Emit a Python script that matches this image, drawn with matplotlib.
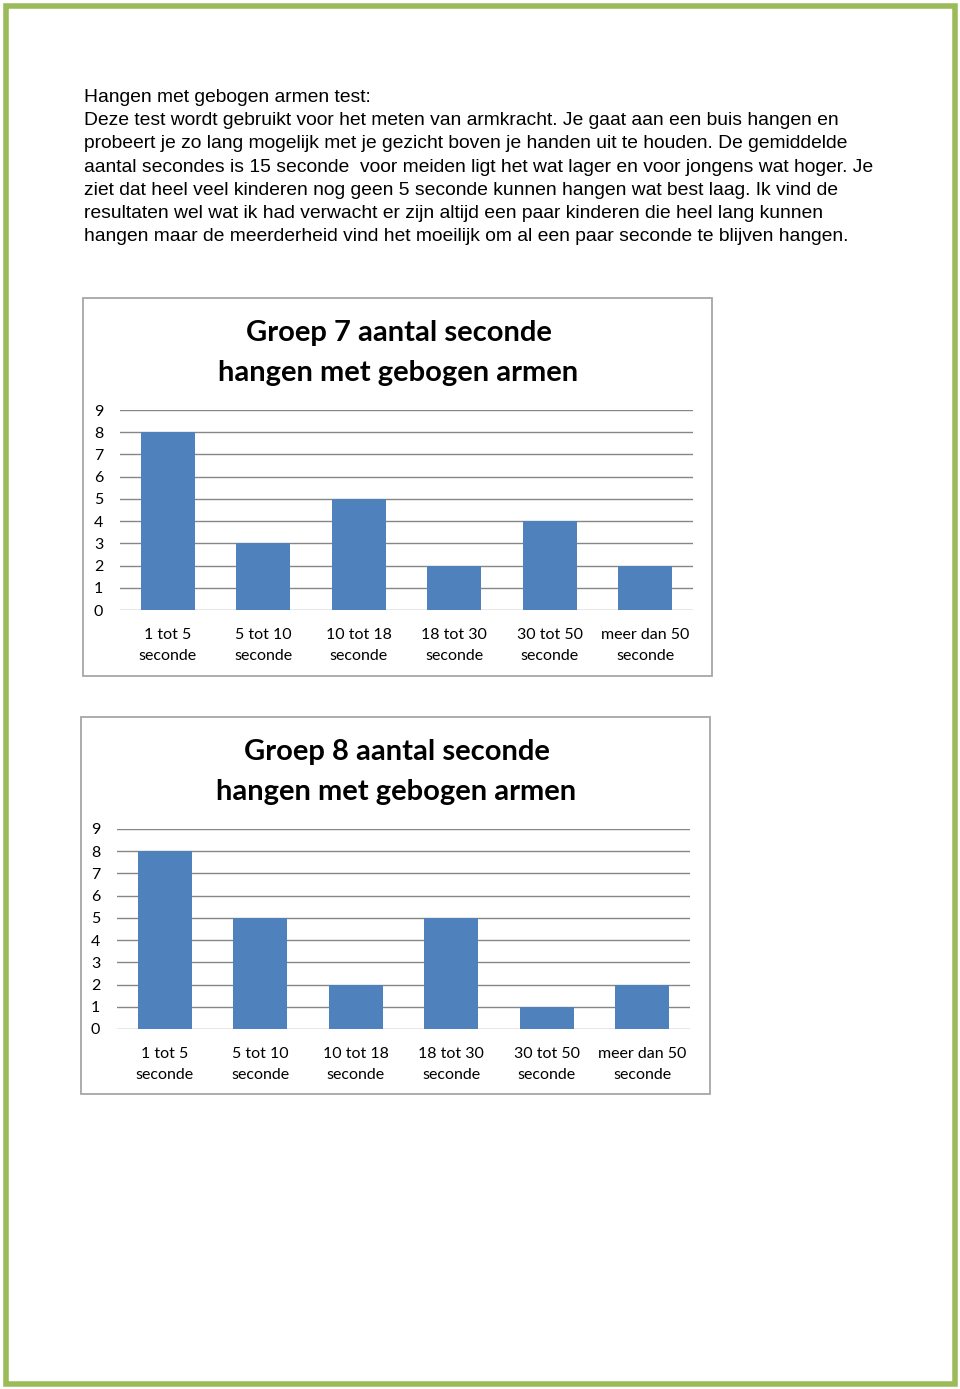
import matplotlib
matplotlib.use("Agg")
import matplotlib.pyplot as plt
from matplotlib.patches import Rectangle

W, H = 960, 1389

categories = ["1 tot 5\nseconde", "5 tot 10\nseconde", "10 tot 18\nseconde",
              "18 tot 30\nseconde", "30 tot 50\nseconde", "meer dan 50\nseconde"]
groep7 = [8, 3, 5, 2, 4, 2]
groep8 = [8, 5, 2, 5, 1, 2]
yticks = list(range(0, 10))

paragraph = [
    "Hangen met gebogen armen test:",
    "Deze test wordt gebruikt voor het meten van armkracht. Je gaat aan een buis hangen en",
    "probeert je zo lang mogelijk met je gezicht boven je handen uit te houden. De gemiddelde",
    "aantal secondes is 15 seconde  voor meiden ligt het wat lager en voor jongens wat hoger. Je",
    "ziet dat heel veel kinderen nog geen 5 seconde kunnen hangen wat best laag. Ik vind de",
    "resultaten wel wat ik had verwacht er zijn altijd een paar kinderen die heel lang kunnen",
    "hangen maar de meerderheid vind het moeilijk om al een paar seconde te blijven hangen.",
]

BAR = "#4F81BD"
GRID = "#868686"
FRAME = "#A6A6A6"
GREEN = "#9BBB59"
CHART_FONT = "Lato"


def box(x0, y0, x1, y1):
    # pixel box (top-left origin) -> figure fraction rect
    return [x0 / W, 1 - y1 / H, (x1 - x0) / W, (y1 - y0) / H]


fig = plt.figure(figsize=(W / 100, H / 100), dpi=100)
fig.patch.set_facecolor("white")

# green page border
fig.add_artist(Rectangle((5.5 / W, 5.5 / H), (W - 11) / W, (H - 11) / H,
                         transform=fig.transFigure, fill=False,
                         edgecolor=GREEN, linewidth=4))

for i, line in enumerate(paragraph):
    y = 97.5 + i * 23.2
    fig.text(84 / W, 1 - y / H, line, ha="left", va="center",
             fontsize=13.9, family="Liberation Sans", color="black")


def draw_chart(frame, plot, title, values):
    fx0, fy0, fx1, fy1 = frame
    fig.add_artist(Rectangle((fx0 / W, 1 - fy1 / H), (fx1 - fx0) / W, (fy1 - fy0) / H,
                             transform=fig.transFigure, fill=False,
                             edgecolor=FRAME, linewidth=1.3))
    px0, py0, px1, py1 = plot
    ax = fig.add_axes(box(px0, py0, px1, py1))
    x = range(len(values))
    ax.bar(x, values, width=0.57, color=BAR, zorder=3)
    ax.set_xlim(-0.5, len(values) - 0.5)
    ax.set_ylim(0, 9)
    ax.set_yticks(yticks)
    ax.set_xticks(list(x))
    ax.set_xticklabels(categories, fontsize=11.5, family=CHART_FONT,
                       linespacing=1.6)
    ax.set_yticklabels([str(t) for t in yticks], fontsize=11.5, family=CHART_FONT)
    ax.tick_params(length=0, axis="y", pad=12)
    ax.tick_params(length=0, axis="x", pad=13)
    for s in ax.spines.values():
        s.set_visible(False)
    for t in yticks:
        ax.axhline(t, color=GRID, linewidth=1, zorder=1)
    ax.set_facecolor("none")
    cx = (fx0 + fx1) / 2 + 1
    fig.text(cx / W, 1 - (fy0 + 55) / H, title, ha="center", va="center",
             fontsize=21, fontweight="bold", family=CHART_FONT,
             linespacing=1.62)


draw_chart((83, 298, 712, 676), (120, 410, 693, 610),
           "Groep 7 aantal seconde\nhangen met gebogen armen", groep7)
draw_chart((81, 717, 710, 1094), (117, 829, 690, 1029),
           "Groep 8 aantal seconde\nhangen met gebogen armen", groep8)

fig.savefig("out.png", dpi=100)
